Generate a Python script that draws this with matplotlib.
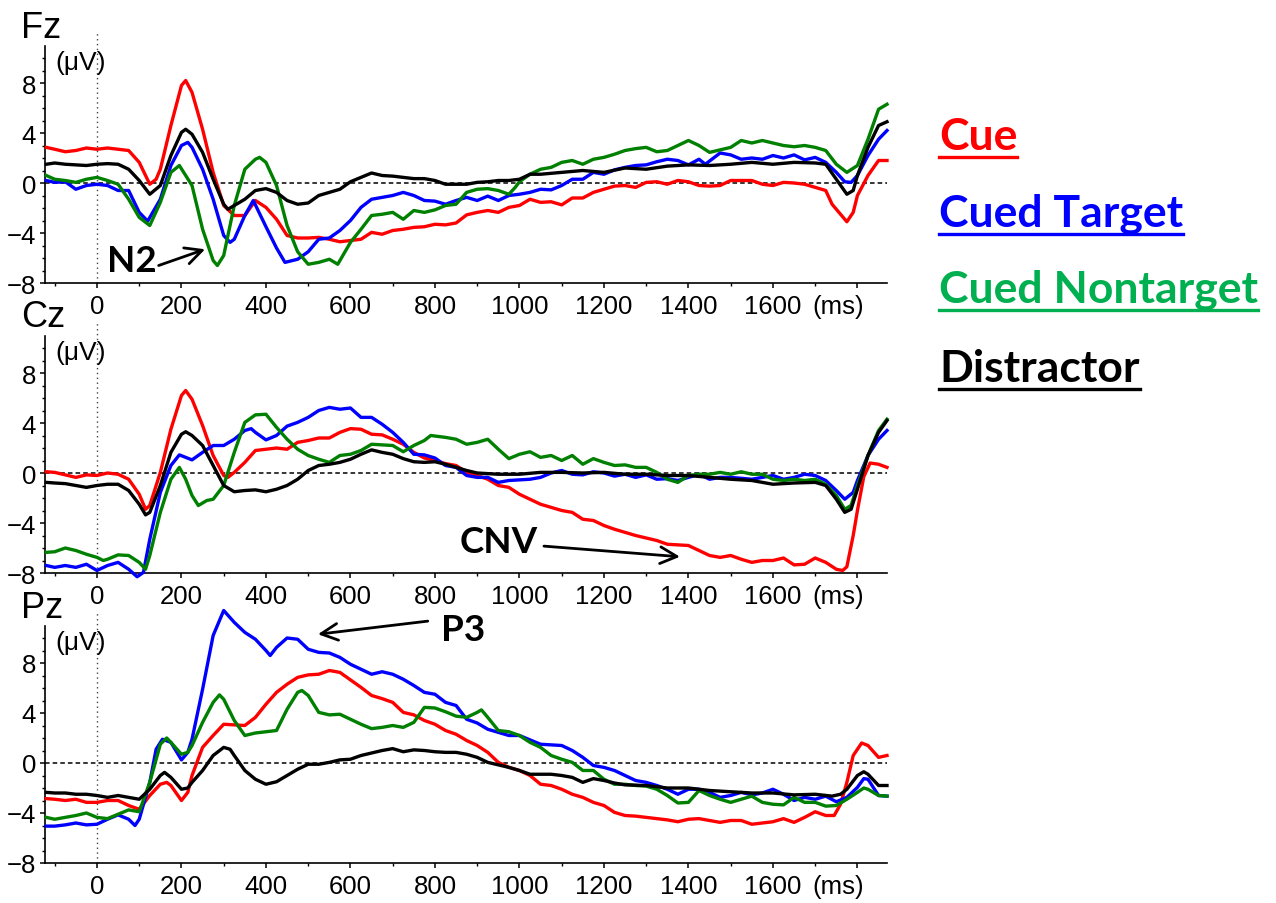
import matplotlib
matplotlib.use('Agg')
import matplotlib.pyplot as plt
from matplotlib.lines import Line2D

plt.rcParams['font.family'] = ['Liberation Sans', 'DejaVu Sans']

# ---------------- data (ms, uV) ----------------
conditions = ['Cue', 'Cued Target', 'Cued Nontarget', 'Distractor']
line_colors = ['#ff0000', '#0000ff', '#008000', '#000000']
legend_colors = ['#ff0000', '#0000ff', '#00b050', '#000000']

# Fz
fz_cue_t = [-120, -100, -75, -50, -25, 0, 25, 50, 75, 100,
            125, 140, 150, 175, 200, 210, 225, 250, 275, 300,
            325, 350, 375, 400, 425, 450, 475, 500, 525, 550,
            575, 600, 625, 650, 675, 700, 725, 750, 775, 800,
            825, 850, 875, 900, 925, 950, 975, 1000, 1025, 1050,
            1075, 1100, 1125, 1150, 1175, 1200, 1225, 1250, 1275, 1300,
            1325, 1350, 1375, 1400, 1425, 1450, 1475, 1500, 1525, 1550,
            1575, 1600, 1625, 1650, 1675, 1700, 1725, 1740, 1760, 1775,
            1790, 1800, 1825, 1850, 1870]
fz_cue_v = [2.85, 2.7, 2.5, 2.6, 2.8, 2.7, 2.8, 2.7, 2.6, 1.65,
            -0.1, 0.3, 1.1, 4.6, 7.8, 8.2, 7.25, 4.3, 0.85, -1.8,
            -2.6, -2.6, -1.4, -1.95, -2.9, -4.2, -4.4, -4.4, -4.35, -4.5,
            -4.7, -4.6, -4.5, -3.95, -4.1, -3.8, -3.7, -3.55, -3.5, -3.3,
            -3.35, -3.2, -2.55, -2.35, -2.2, -2.35, -1.95, -1.8, -1.3, -1.55,
            -1.5, -1.75, -1.2, -1.2, -0.75, -0.5, -0.25, -0.2, -0.35, 0.05,
            0.1, -0.1, 0.2, 0.1, -0.2, -0.25, -0.2, 0.2, 0.2, 0.2,
            -0.1, -0.2, 0.05, 0.0, -0.1, -0.35, -0.6, -1.7, -2.5, -3.1,
            -2.35, -1.0, 0.6, 1.8, 1.8]

fz_target_t = [-120, -100, -75, -50, -25, 0, 25, 50, 75, 100,
               120, 150, 175, 200, 215, 225, 250, 275, 300, 315,
               325, 350, 370, 400, 425, 445, 475, 500, 525, 550,
               575, 600, 625, 650, 675, 700, 725, 750, 775, 800,
               825, 850, 875, 900, 925, 950, 975, 1000, 1025, 1050,
               1075, 1100, 1125, 1150, 1175, 1200, 1225, 1250, 1275, 1300,
               1325, 1350, 1375, 1400, 1425, 1440, 1475, 1500, 1525, 1550,
               1575, 1600, 1625, 1650, 1675, 1700, 1725, 1750, 1770, 1785,
               1800, 1825, 1850, 1870]
fz_target_v = [0.2, 0.05, 0.1, -0.5, -0.2, -0.1, -0.2, -0.6, -0.6, -2.35,
               -3.05, -1.3, 1.4, 3.0, 3.25, 2.85, 1.1, -1.3, -4.2, -4.75,
               -4.5, -2.6, -1.4, -3.5, -5.2, -6.35, -6.1, -5.5, -4.5, -4.4,
               -3.8, -3.0, -1.95, -1.3, -1.15, -1.0, -0.75, -1.0, -1.4, -1.45,
               -1.7, -1.4, -1.15, -1.4, -1.05, -1.4, -1.0, -0.9, -0.75, -0.5,
               -0.55, -0.2, 0.3, 0.3, 0.85, 0.7, 1.05, 1.25, 1.4, 1.45,
               1.7, 1.9, 1.8, 1.45, 1.9, 1.5, 2.4, 2.25, 1.9, 2.0,
               1.9, 2.2, 2.0, 2.25, 1.85, 2.05, 1.65, 0.85, 0.1, 0.05,
               0.6, 2.2, 3.5, 4.2]

fz_nontarget_t = [-120, -100, -75, -50, -25, 0, 25, 50, 75, 100,
                  125, 150, 175, 195, 225, 250, 275, 285, 300, 325,
                  350, 375, 385, 400, 425, 450, 475, 500, 525, 550,
                  570, 600, 625, 650, 675, 700, 725, 750, 775, 800,
                  825, 850, 875, 900, 925, 950, 975, 990, 1000, 1025,
                  1050, 1075, 1100, 1125, 1150, 1175, 1200, 1225, 1250, 1275,
                  1300, 1325, 1350, 1375, 1400, 1425, 1450, 1475, 1500, 1525,
                  1550, 1575, 1600, 1625, 1650, 1675, 1700, 1725, 1750, 1775,
                  1800, 1825, 1850, 1870]
fz_nontarget_v = [0.6, 0.3, 0.2, 0.05, 0.3, 0.45, 0.2, -0.1, -1.3, -2.75,
                  -3.4, -1.55, 0.85, 1.4, -0.2, -3.7, -6.2, -6.6, -5.8, -1.8,
                  1.1, 1.9, 2.05, 1.65, -0.2, -3.4, -5.5, -6.5, -6.35, -6.1,
                  -6.5, -4.75, -3.7, -2.6, -2.5, -2.35, -2.9, -2.2, -2.35, -2.15,
                  -1.8, -1.7, -0.75, -0.5, -0.45, -0.6, -0.9, -0.35, 0.1, 0.7,
                  1.1, 1.25, 1.65, 1.8, 1.5, 1.9, 2.05, 2.3, 2.6, 2.75,
                  2.85, 2.5, 2.6, 3.0, 3.4, 3.0, 2.45, 2.65, 2.85, 3.4,
                  3.2, 3.4, 3.2, 3.0, 2.9, 3.0, 2.85, 2.6, 1.5, 0.85,
                  1.4, 3.5, 5.9, 6.3]

fz_distractor_t = [-120, -100, -75, -50, -25, 0, 25, 50, 75, 100,
                   125, 150, 175, 200, 210, 225, 250, 275, 300, 310,
                   325, 350, 375, 400, 425, 450, 475, 500, 525, 550,
                   575, 600, 625, 650, 675, 700, 725, 750, 775, 800,
                   825, 850, 875, 900, 925, 950, 975, 1000, 1025, 1050,
                   1100, 1150, 1200, 1250, 1300, 1350, 1400, 1450, 1500, 1550,
                   1600, 1650, 1700, 1725, 1750, 1775, 1790, 1800, 1825, 1850,
                   1870]
fz_distractor_v = [1.5, 1.6, 1.5, 1.45, 1.4, 1.5, 1.55, 1.5, 1.1, 0.2,
                   -0.9, -0.2, 2.2, 4.05, 4.3, 3.9, 2.45, 0.3, -1.7, -2.1,
                   -1.8, -1.3, -0.6, -0.45, -0.75, -1.4, -1.7, -1.6, -1.0, -0.75,
                   -0.5, 0.1, 0.45, 0.8, 0.6, 0.55, 0.45, 0.35, 0.35, 0.2,
                   -0.1, -0.1, -0.1, 0.05, 0.1, 0.2, 0.2, 0.3, 0.7, 0.7,
                   0.85, 1.0, 0.85, 1.2, 1.1, 1.35, 1.45, 1.4, 1.5, 1.65,
                   1.5, 1.65, 1.6, 1.5, 0.3, -0.9, -0.6, 0.6, 2.85, 4.6,
                   4.9]

# Cz
cz_cue_t = [-120, -100, -75, -50, -25, 0, 25, 50, 75, 100,
            115, 125, 150, 175, 200, 210, 225, 250, 275, 300,
            310, 325, 350, 375, 400, 425, 450, 475, 500, 525,
            550, 575, 600, 625, 650, 675, 700, 725, 750, 775,
            800, 825, 850, 875, 900, 925, 950, 975, 1000, 1025,
            1050, 1075, 1100, 1125, 1150, 1175, 1200, 1225, 1250, 1275,
            1300, 1325, 1350, 1375, 1400, 1425, 1450, 1475, 1500, 1525,
            1550, 1575, 1600, 1625, 1650, 1675, 1700, 1725, 1750, 1765,
            1775, 1790, 1800, 1815, 1830, 1850, 1870]
cz_cue_v = [0.1, 0.05, -0.15, -0.35, -0.15, -0.2, 0.0, -0.1, -0.5, -1.7,
            -2.9, -2.6, 0.05, 3.5, 6.2, 6.6, 5.9, 3.8, 1.4, -0.2,
            -0.35, 0.05, 0.85, 1.8, 1.9, 2.0, 1.9, 2.45, 2.6, 2.8,
            2.8, 3.25, 3.55, 3.5, 3.1, 3.05, 2.7, 2.3, 1.65, 1.2,
            1.0, 0.75, 0.6, 0.05, -0.2, -0.5, -1.0, -1.15, -1.7, -2.1,
            -2.5, -2.75, -3.0, -3.15, -3.7, -3.8, -4.2, -4.5, -4.75, -5.0,
            -5.2, -5.4, -5.7, -5.75, -5.8, -6.2, -6.6, -6.75, -6.6, -6.9,
            -7.15, -7.0, -7.0, -6.8, -7.35, -7.3, -6.8, -7.15, -7.7, -7.8,
            -7.5, -5.0, -3.0, -0.3, 0.8, 0.7, 0.45]

cz_target_t = [-120, -100, -75, -50, -25, 0, 25, 50, 75, 95,
               110, 125, 150, 175, 195, 225, 250, 275, 300, 325,
               350, 365, 375, 400, 425, 450, 475, 500, 525, 550,
               575, 600, 625, 650, 675, 700, 725, 750, 775, 800,
               825, 850, 875, 900, 925, 950, 975, 1000, 1025, 1050,
               1075, 1100, 1125, 1150, 1175, 1200, 1225, 1250, 1275, 1300,
               1325, 1350, 1375, 1400, 1425, 1450, 1475, 1500, 1550, 1600,
               1625, 1650, 1675, 1700, 1725, 1750, 1770, 1790, 1800, 1825,
               1850, 1870]
cz_target_v = [-7.4, -7.55, -7.4, -7.55, -7.3, -7.8, -7.4, -7.15, -7.7, -8.3,
               -7.95, -5.3, -1.55, 0.6, 1.45, 1.05, 1.65, 2.2, 2.2, 2.7,
               3.4, 3.55, 3.25, 2.65, 3.0, 3.75, 4.05, 4.45, 5.0, 5.25,
               5.1, 5.2, 4.45, 4.45, 3.9, 3.25, 2.45, 1.5, 1.45, 1.2,
               0.6, 0.45, -0.2, -0.35, -0.35, -0.75, -0.6, -0.55, -0.5, -0.35,
               0.0, 0.2, -0.1, -0.15, 0.1, 0.0, -0.25, -0.1, -0.35, -0.15,
               -0.5, -0.45, -0.6, -0.35, -0.1, -0.5, -0.35, -0.35, -0.5, -0.2,
               -0.5, -0.35, -0.1, -0.2, -0.6, -1.4, -2.1, -1.55, -0.6, 1.4,
               2.7, 3.4]

cz_nontarget_t = [-120, -100, -75, -50, -25, 0, 15, 25, 50, 75,
                  100, 115, 125, 150, 175, 195, 210, 225, 240, 260,
                  275, 300, 325, 350, 375, 400, 425, 450, 475, 500,
                  525, 550, 575, 600, 625, 650, 675, 700, 725, 750,
                  775, 790, 825, 850, 875, 900, 925, 950, 975, 1000,
                  1025, 1050, 1075, 1100, 1125, 1150, 1175, 1200, 1225, 1250,
                  1275, 1300, 1325, 1350, 1375, 1400, 1425, 1450, 1475, 1500,
                  1525, 1550, 1575, 1600, 1625, 1650, 1675, 1700, 1725, 1750,
                  1770, 1785, 1800, 1825, 1850, 1870]
cz_nontarget_v = [-6.35, -6.3, -6.0, -6.2, -6.5, -6.75, -7.0, -6.9, -6.55, -6.6,
                  -7.15, -7.7, -6.6, -3.15, -0.5, 0.45, -0.5, -1.8, -2.6, -2.2,
                  -2.1, -1.0, 1.65, 4.05, 4.65, 4.7, 3.65, 2.7, 1.9, 1.4,
                  1.1, 0.85, 1.4, 1.5, 1.8, 2.3, 2.25, 2.2, 1.7, 2.2,
                  2.6, 3.0, 2.85, 2.7, 2.3, 2.45, 2.7, 1.9, 1.15, 1.5,
                  1.7, 1.25, 1.4, 1.0, 1.4, 0.7, 1.15, 0.85, 0.6, 0.65,
                  0.45, 0.45, 0.05, -0.5, -0.75, -0.2, -0.1, -0.1, 0.05, -0.1,
                  0.1, -0.1, -0.1, -0.5, -0.6, -0.5, -0.6, -0.5, -0.9, -1.8,
                  -2.9, -2.6, -1.0, 1.4, 3.4, 4.3]

cz_distractor_t = [-120, -100, -75, -50, -25, 0, 25, 50, 75, 100,
                   115, 125, 150, 175, 200, 210, 225, 250, 275, 300,
                   325, 350, 375, 400, 425, 450, 475, 500, 525, 550,
                   575, 600, 625, 650, 675, 700, 725, 750, 775, 800,
                   825, 850, 875, 900, 950, 1000, 1050, 1100, 1150, 1200,
                   1250, 1300, 1350, 1400, 1450, 1500, 1550, 1600, 1650, 1700,
                   1725, 1750, 1770, 1785, 1800, 1825, 1850, 1870]
cz_distractor_v = [-0.75, -0.8, -0.85, -1.0, -1.15, -1.0, -0.9, -0.9, -1.4, -2.5,
                   -3.35, -3.15, -1.0, 1.65, 3.1, 3.3, 3.0, 2.2, 0.6, -1.0,
                   -1.5, -1.4, -1.35, -1.5, -1.3, -1.0, -0.5, 0.2, 0.6, 0.7,
                   0.85, 1.1, 1.5, 1.85, 1.65, 1.5, 1.15, 0.9, 0.85, 0.9,
                   0.7, 0.45, 0.2, 0.0, -0.1, -0.1, 0.05, 0.05, 0.0, 0.05,
                   -0.1, -0.1, -0.2, -0.2, -0.35, -0.5, -0.6, -0.9, -0.8, -0.75,
                   -1.0, -2.1, -3.15, -2.9, -1.3, 1.4, 3.25, 4.2]

# Pz
pz_cue_t = [-120, -100, -75, -50, -25, 0, 25, 50, 75, 100,
            125, 150, 165, 175, 200, 215, 225, 250, 275, 300,
            325, 350, 375, 400, 425, 450, 475, 500, 525, 550,
            575, 600, 625, 650, 675, 700, 725, 750, 775, 800,
            825, 850, 875, 900, 925, 950, 975, 1000, 1025, 1050,
            1075, 1100, 1125, 1150, 1175, 1200, 1225, 1250, 1275, 1300,
            1325, 1350, 1375, 1400, 1425, 1450, 1475, 1500, 1525, 1550,
            1575, 1600, 1625, 1650, 1675, 1700, 1725, 1745, 1760, 1775,
            1790, 1810, 1825, 1850, 1870]
pz_cue_v = [-2.85, -2.9, -3.0, -2.9, -3.15, -3.15, -3.0, -3.0, -3.4, -3.7,
            -2.6, -1.7, -1.55, -1.8, -3.0, -2.35, -1.0, 1.25, 2.2, 3.1,
            3.05, 3.0, 3.65, 4.7, 5.65, 6.3, 6.85, 7.05, 7.1, 7.4,
            7.25, 6.65, 6.05, 5.4, 5.15, 4.85, 4.05, 3.85, 3.4, 3.1,
            2.6, 2.3, 1.8, 1.4, 0.85, 0.05, -0.35, -0.6, -1.0, -1.7,
            -1.8, -2.1, -2.5, -2.75, -3.15, -3.4, -3.95, -4.2, -4.25, -4.35,
            -4.45, -4.55, -4.7, -4.5, -4.45, -4.6, -4.75, -4.6, -4.6, -4.9,
            -4.8, -4.7, -4.45, -4.75, -4.35, -3.9, -4.2, -4.2, -3.3, -1.55,
            0.6, 1.6, 1.4, 0.45, 0.6]

pz_target_t = [-120, -100, -75, -50, -25, 0, 25, 50, 75, 90,
               100, 125, 140, 155, 175, 200, 215, 225, 250, 275,
               300, 325, 350, 375, 400, 410, 425, 450, 475, 500,
               525, 550, 575, 600, 625, 650, 675, 700, 725, 750,
               775, 800, 825, 850, 875, 900, 925, 950, 975, 1000,
               1025, 1050, 1075, 1100, 1125, 1150, 1175, 1200, 1225, 1250,
               1275, 1300, 1325, 1350, 1375, 1400, 1425, 1450, 1475, 1500,
               1525, 1550, 1575, 1600, 1625, 1650, 1675, 1700, 1725, 1750,
               1775, 1800, 1815, 1825, 1850, 1870]
pz_target_v = [-5.05, -5.05, -4.95, -4.8, -4.95, -4.9, -4.5, -4.15, -4.5, -5.0,
               -4.5, -1.55, 1.1, 1.9, 1.65, 0.25, 0.85, 1.9, 5.9, 10.2,
               12.2, 11.25, 10.45, 9.9, 9.0, 8.6, 9.25, 10.0, 9.9, 9.1,
               8.85, 8.8, 8.45, 7.9, 7.5, 7.1, 7.3, 7.1, 6.7, 6.2,
               5.65, 5.5, 4.85, 4.6, 3.5, 3.2, 2.7, 2.45, 2.2, 2.2,
               1.85, 1.5, 1.45, 1.4, 1.0, 0.45, -0.2, -0.35, -0.6, -1.0,
               -1.4, -1.55, -1.8, -2.1, -2.5, -2.1, -2.1, -2.35, -2.75, -2.6,
               -2.35, -2.55, -2.4, -2.1, -2.5, -3.0, -2.75, -2.9, -2.65, -3.1,
               -2.75, -1.95, -1.25, -1.3, -2.6, -2.65]

pz_nontarget_t = [-120, -100, -75, -50, -25, 0, 25, 50, 75, 100,
                  125, 150, 165, 175, 200, 215, 225, 250, 275, 290,
                  300, 325, 350, 375, 400, 425, 450, 475, 485, 500,
                  525, 550, 575, 600, 625, 650, 675, 700, 725, 750,
                  775, 800, 825, 850, 875, 900, 910, 925, 950, 975,
                  1000, 1025, 1050, 1075, 1100, 1125, 1150, 1175, 1200, 1225,
                  1250, 1275, 1300, 1325, 1350, 1375, 1400, 1425, 1450, 1475,
                  1500, 1525, 1550, 1575, 1600, 1625, 1650, 1675, 1700, 1725,
                  1750, 1775, 1800, 1815, 1825, 1850, 1870]
pz_nontarget_v = [-4.35, -4.5, -4.35, -4.2, -4.0, -4.35, -4.45, -4.1, -3.75, -3.9,
                  -1.55, 1.5, 2.0, 1.65, 0.7, 0.85, 1.4, 3.25, 4.85, 5.45,
                  5.1, 3.4, 2.2, 2.4, 2.5, 2.6, 4.3, 5.65, 5.8, 5.4,
                  4.05, 3.85, 3.9, 3.5, 3.1, 2.75, 2.85, 3.0, 2.85, 3.25,
                  4.45, 4.4, 4.1, 3.75, 3.65, 4.05, 4.25, 3.65, 2.6, 2.5,
                  2.2, 1.65, 1.25, 0.6, 0.3, 0.05, -0.6, -0.6, -1.3, -1.7,
                  -1.7, -1.8, -1.85, -2.1, -2.6, -3.2, -3.15, -2.2, -2.6, -2.9,
                  -3.15, -2.9, -2.65, -3.15, -3.3, -3.35, -2.75, -3.15, -3.15, -3.45,
                  -3.4, -2.9, -2.35, -2.0, -2.1, -2.6, -2.65]

pz_distractor_t = [-120, -100, -75, -50, -25, 0, 25, 50, 75, 100,
                   125, 150, 160, 175, 200, 215, 225, 250, 275, 300,
                   315, 325, 350, 375, 400, 425, 450, 475, 500, 525,
                   550, 575, 600, 625, 650, 675, 700, 725, 750, 775,
                   800, 825, 850, 875, 900, 925, 950, 975, 1000, 1025,
                   1050, 1075, 1100, 1125, 1150, 1175, 1200, 1225, 1250, 1300,
                   1350, 1400, 1450, 1500, 1550, 1600, 1650, 1700, 1740, 1760,
                   1775, 1800, 1815, 1825, 1850, 1870]
pz_distractor_v = [-2.35, -2.4, -2.4, -2.5, -2.5, -2.6, -2.75, -2.6, -2.75, -2.9,
                   -2.1, -1.0, -0.75, -1.15, -2.1, -2.0, -1.55, -0.6, 0.6, 1.25,
                   1.1, 0.6, -0.6, -1.3, -1.7, -1.5, -1.0, -0.5, -0.1, -0.1,
                   0.05, 0.25, 0.3, 0.6, 0.8, 1.0, 1.15, 0.9, 1.05, 1.0,
                   0.9, 0.85, 0.85, 0.7, 0.45, 0.05, -0.15, -0.35, -0.6, -0.9,
                   -0.9, -0.9, -1.0, -1.15, -1.55, -1.25, -1.4, -1.6, -1.75, -1.8,
                   -2.0, -2.0, -2.2, -2.3, -2.4, -2.4, -2.55, -2.5, -2.65, -2.5,
                   -2.1, -1.0, -0.7, -0.9, -1.8, -1.8]

x_major = [0, 200, 400, 600, 800, 1000, 1200, 1400, 1600, 1800]
x_labels = ['0', '200', '400', '600', '800', '1000', '1200', '1400', '1600', '']
y_major = [-8, -4, 0, 4, 8]

W, H = 1276, 904
fig = plt.figure(figsize=(W / 100, H / 100), dpi=100)


def draw_panel(bottom_px, series):
    ax = fig.add_axes([45 / W, (H - bottom_px) / H, 842 / W, 237.5 / H])
    ax.axhline(0, color='black', lw=1.1, ls=(0, (3, 2)), zorder=1)
    ax.axvline(0, ymax=1.06, color='#444444', lw=1, ls=(0, (1, 2.5)),
               clip_on=False, zorder=1)
    for (t, v), c in zip(series, line_colors):
        ax.plot(t, v, color=c, lw=2.4, clip_on=False, zorder=3,
                solid_joinstyle='round')
    ax.set_xlim(-123, 1870)
    ax.set_ylim(-8, 11)
    ax.set_xticks(x_major)
    ax.set_xticklabels(x_labels)
    ax.set_xticks(range(-100, 1800, 200), minor=True)
    ax.set_yticks(y_major)
    ax.set_yticks(range(-8, 11), minor=True)
    ax.tick_params(which='major', direction='out', length=3.5, width=1.1,
                   labelsize=18.5)
    ax.tick_params(which='minor', direction='out', length=2.2, width=1)
    ax.tick_params(axis='x', pad=4.5)
    ax.tick_params(axis='y', pad=3)
    for s in ['top', 'right']:
        ax.spines[s].set_visible(False)
    for s in ['left', 'bottom']:
        ax.spines[s].set_linewidth(1.2)
    ax.text(-38, 9.7, '(μV)', fontsize=19, ha='center', va='center')
    ax.annotate('(ms)', xy=(1755, 0), xycoords=('data', 'axes fraction'),
                xytext=(0, -8), textcoords='offset points',
                ha='center', va='top', fontsize=18.5)
    return ax


ax_fz = draw_panel(284, [(fz_cue_t, fz_cue_v), (fz_target_t, fz_target_v),
                         (fz_nontarget_t, fz_nontarget_v),
                         (fz_distractor_t, fz_distractor_v)])
ax_cz = draw_panel(574, [(cz_cue_t, cz_cue_v), (cz_target_t, cz_target_v),
                         (cz_nontarget_t, cz_nontarget_v),
                         (cz_distractor_t, cz_distractor_v)])
ax_pz = draw_panel(864, [(pz_cue_t, pz_cue_v), (pz_target_t, pz_target_v),
                         (pz_nontarget_t, pz_nontarget_v),
                         (pz_distractor_t, pz_distractor_v)])

# panel names
for name, base in [('Fz', 38), ('Cz', 327), ('Pz', 618)]:
    fig.text(21 / W, 1 - base / H, name, fontsize=26, va='baseline', ha='left')

# component labels and arrows
bold = dict(family=['Lato', 'DejaVu Sans'], weight='bold', fontsize=26.5)
arrow = dict(arrowstyle='->', color='black', lw=2, mutation_scale=30,
             shrinkA=0, shrinkB=0)
ax_fz.text(83, -6.2, 'N2', ha='center', va='center', **bold)
ax_fz.annotate('', xy=(256, -5.3), xytext=(146, -6.6), arrowprops=arrow,
               annotation_clip=False)
ax_cz.text(952, -5.5, 'CNV', ha='center', va='center', **bold)
ax_cz.annotate('', xy=(1380, -6.7), xytext=(1058, -5.85), arrowprops=arrow,
               annotation_clip=False)
ax_pz.text(866, 10.7, 'P3', ha='center', va='center', **bold)
ax_pz.annotate('', xy=(523, 10.3), xytext=(783, 11.35), arrowprops=arrow,
               annotation_clip=False)

# legend with underlines
legend_base = [150, 227, 303, 382]
texts = []
for name, c, b in zip(conditions, legend_colors, legend_base):
    texts.append(fig.text(939 / W, 1 - b / H, name, color=c, fontsize=32,
                          family=['Lato', 'DejaVu Sans'], weight='bold',
                          va='baseline', ha='left'))
fig.canvas.draw()
renderer = fig.canvas.get_renderer()
for txt, c, b in zip(texts, legend_colors, legend_base):
    bb = txt.get_window_extent(renderer)
    y = 1 - (b + 8) / H
    fig.add_artist(Line2D([bb.x0 / W, bb.x1 / W], [y, y], color=c, lw=2.4,
                          transform=fig.transFigure))

fig.savefig('out.png', dpi=100)
